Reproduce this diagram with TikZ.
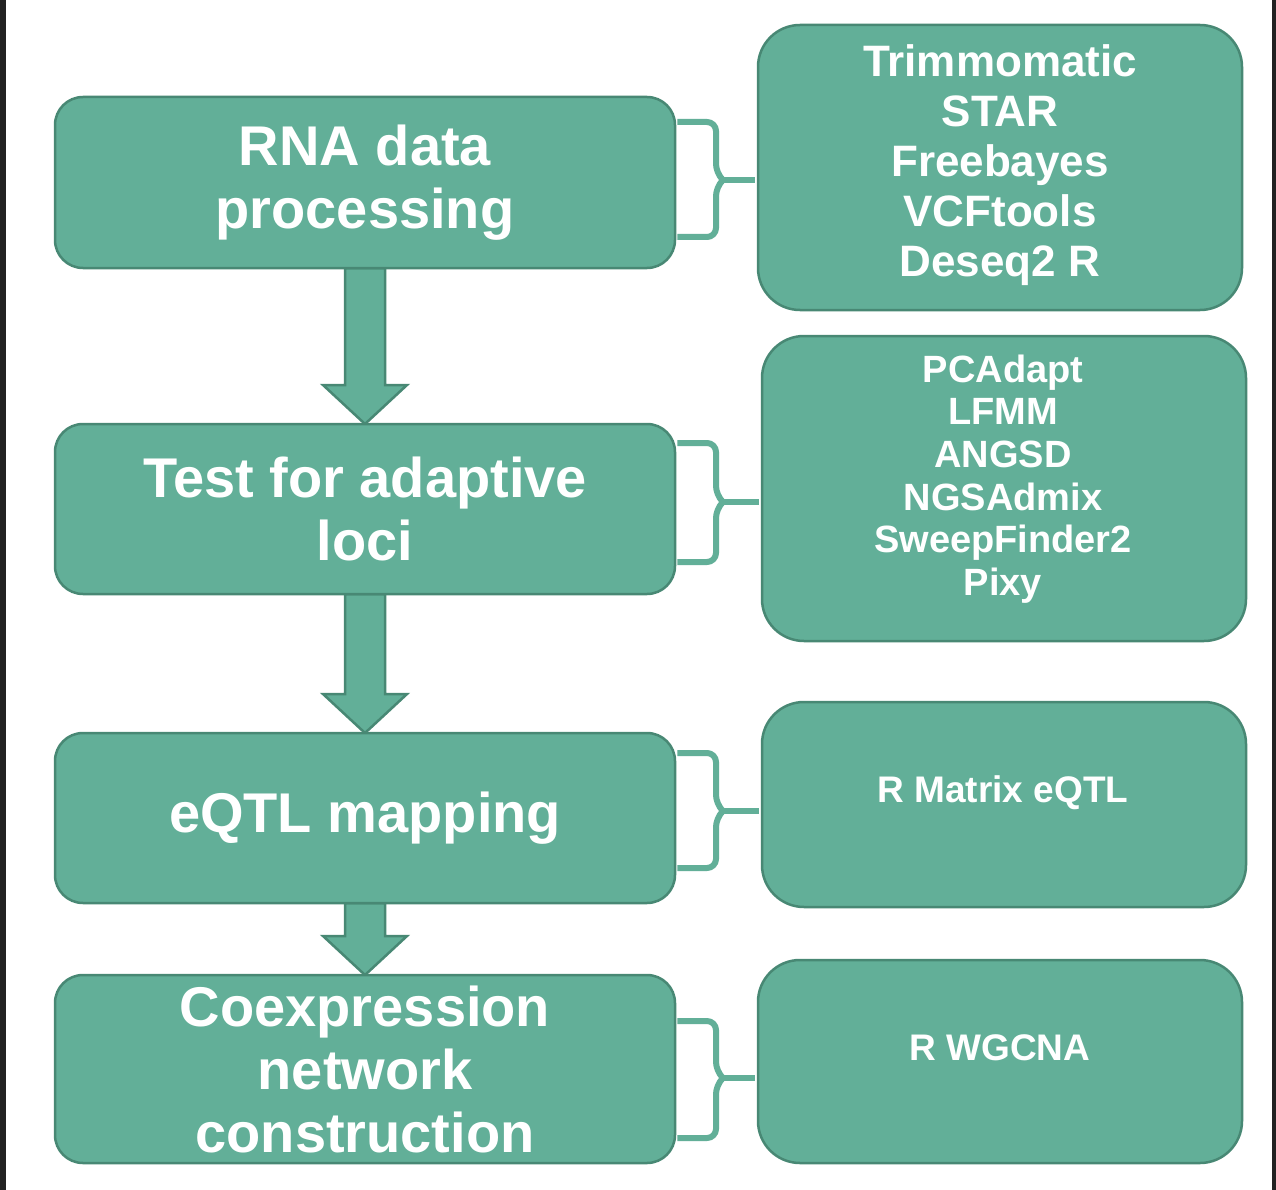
\documentclass[tikz,border=0pt]{standalone}
\usepackage{fontspec}
\setmainfont{Liberation Sans}
\usetikzlibrary{calc}
\definecolor{boxfill}{RGB}{98,175,152}
\definecolor{boxline}{RGB}{72,136,116}
\definecolor{edge}{RGB}{34,34,34}
\begin{document}
\begin{tikzpicture}[x=1pt,y=-1pt,
  leftbox/.style={draw=boxline,fill=boxfill,line width=2.5pt,rounded corners=28pt,
    minimum width=620pt,inner sep=0pt,align=center,text=white,
    font=\fontsize{56}{63}\selectfont\bfseries},
  rightbox/.style={draw=boxline,fill=boxfill,line width=2.5pt,rounded corners=42pt,
    minimum width=484pt,inner sep=0pt},
  tooltext/.style={align=center,text=white,inner sep=0pt},
  bigarrow/.style={draw=boxline,fill=boxfill,line width=2.5pt,line join=miter},
  bracepath/.style={draw=boxfill,line width=6pt,line cap=butt,line join=round}]
\useasboundingbox (0,0) rectangle (1276,1190);
\fill[white] (0,0) rectangle (1276,1190);
\fill[edge] (0,0) rectangle (6,1190);
\fill[edge] (1272,0) rectangle (1276,1190);

% coordinates for arrows (shafts / tips)
\coordinate (a1s) at (365,268);
\coordinate (a1t) at (365,424);
\coordinate (a2s) at (365,594);
\coordinate (a2t) at (365,733);
\coordinate (a3s) at (365,903);
\coordinate (a3t) at (365,975);

% arrows drawn first (behind boxes)
\foreach \s/\t in {a1s/a1t,a2s/a2t,a3s/a3t}{
  \draw[bigarrow] ($(\s)+(-20,0)$) -- ($(\t)+(-20,-39)$) -- ($(\t)+(-42,-39)$) -- (\t)
    -- ($(\t)+(42,-39)$) -- ($(\t)+(20,-39)$) -- ($(\s)+(20,0)$) -- cycle;
}

% left boxes
\node[leftbox,minimum height=171pt] (l1) at (365,182.5) {RNA data\\processing};
\node[leftbox,minimum height=170pt] (l2) at (365,509) {Test for adaptive\\loci};
\node[leftbox,minimum height=170pt] (l3) at (365,818) {eQTL mapping};
\node[leftbox,minimum height=188pt] (l4) at (365,1069) {Coexpression\\network\\construction};

% right boxes
\node[rightbox,minimum height=285pt] (r1) at (1000,167.5) {};
\node[rightbox,minimum height=305pt] (r2) at (1004,488.5) {};
\node[rightbox,minimum height=205pt] (r3) at (1004,804.5) {};
\node[rightbox,minimum height=203pt] (r4) at (1000,1061.5) {};

\node[tooltext,font=\fontsize{44}{50}\selectfont\bfseries] (t1) at (1000,165)
  {Trimmomatic\\STAR\\Freebayes\\VCFtools\\Deseq2 R};
\node[tooltext,font=\fontsize{38}{42.6}\selectfont\bfseries] (t2) at (1003,479)
  {PCAdapt\\LFMM\\ANGSD\\NGSAdmix\\SweepFinder2\\Pixy};
\node[tooltext,font=\fontsize{37}{42}\selectfont\bfseries] (t3) at (1003,793) {R Matrix eQTL};
\node[tooltext,font=\fontsize{37}{42}\selectfont\bfseries] (t4) at (1000,1048) {R WGCNA};

% braces
\newcommand{\toolbrace}[5]{% left node, right node, top y, bottom y, tip y
  \draw[bracepath,rounded corners=9pt] ($(#1.east |- 0,#3)+(1,0)$) -- (716,#3) -- (716,#5-7) -- (723,#5);
  \draw[bracepath,rounded corners=9pt] ($(#1.east |- 0,#4)+(1,0)$) -- (716,#4) -- (716,#5+7) -- (723,#5);
  \draw[bracepath] (721,#5) -- ($(#2.west |- 0,#5)+(-2,0)$);
}
\toolbrace{l1}{r1}{122}{237}{180}
\toolbrace{l2}{r2}{443}{562}{502}
\toolbrace{l3}{r3}{753}{868}{811}
\toolbrace{l4}{r4}{1021}{1138}{1078}
\end{tikzpicture}
\end{document}
